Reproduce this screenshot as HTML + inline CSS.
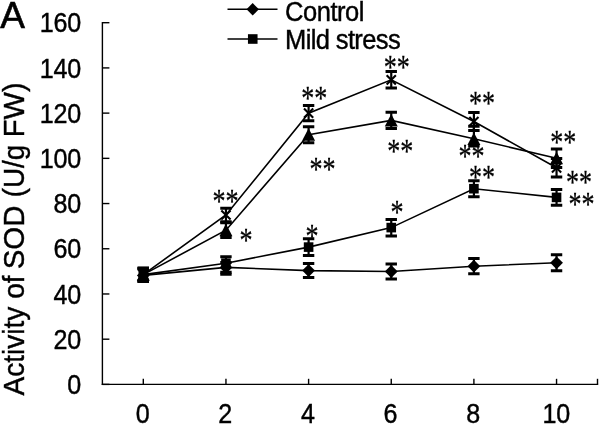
<!DOCTYPE html>
<html><head><meta charset="utf-8"><title>Activity of SOD</title>
<style>html,body{margin:0;padding:0;background:#fff}svg{display:block}</style></head>
<body>
<svg width="600" height="425" viewBox="0 0 600 425">
<rect width="600" height="425" fill="#fff"/>
<g stroke="#000" stroke-width="1.4" fill="none">
<path d="M102.4 21.9V385.1"/>
<path d="M101.7 384.4H598.2"/>
<path d="M102.4 384.40H109.4"/>
<path d="M102.4 339.19H109.4"/>
<path d="M102.4 293.97H109.4"/>
<path d="M102.4 248.76H109.4"/>
<path d="M102.4 203.55H109.4"/>
<path d="M102.4 158.34H109.4"/>
<path d="M102.4 113.12H109.4"/>
<path d="M102.4 67.91H109.4"/>
<path d="M102.4 22.70H109.4"/>
<path d="M143.30 384.4V378.8"/>
<path d="M225.95 384.4V378.8"/>
<path d="M308.60 384.4V378.8"/>
<path d="M391.25 384.4V378.8"/>
<path d="M473.90 384.4V378.8"/>
<path d="M556.55 384.4V378.8"/>
<path d="M597.5 384.4V378.8"/>
</g>
<g font-family="'Liberation Sans', Arial, sans-serif" fill="#000" stroke="#000" stroke-width="0.42">
<text transform="translate(80.9 394.10) scale(0.93 1)" font-size="27" text-anchor="end" letter-spacing="-0.3">0</text>
<text transform="translate(80.9 348.89) scale(0.93 1)" font-size="27" text-anchor="end" letter-spacing="-0.3">20</text>
<text transform="translate(80.9 303.67) scale(0.93 1)" font-size="27" text-anchor="end" letter-spacing="-0.3">40</text>
<text transform="translate(80.9 258.46) scale(0.93 1)" font-size="27" text-anchor="end" letter-spacing="-0.3">60</text>
<text transform="translate(80.9 213.25) scale(0.93 1)" font-size="27" text-anchor="end" letter-spacing="-0.3">80</text>
<text transform="translate(80.9 168.04) scale(0.93 1)" font-size="27" text-anchor="end" letter-spacing="-0.3">100</text>
<text transform="translate(80.9 122.82) scale(0.93 1)" font-size="27" text-anchor="end" letter-spacing="-0.3">120</text>
<text transform="translate(80.9 77.61) scale(0.93 1)" font-size="27" text-anchor="end" letter-spacing="-0.3">140</text>
<text transform="translate(80.9 32.40) scale(0.93 1)" font-size="27" text-anchor="end" letter-spacing="-0.3">160</text>
<text transform="translate(142.50 423.4) scale(0.93 1)" font-size="27" text-anchor="middle" letter-spacing="-0.3">0</text>
<text transform="translate(225.15 423.4) scale(0.93 1)" font-size="27" text-anchor="middle" letter-spacing="-0.3">2</text>
<text transform="translate(307.80 423.4) scale(0.93 1)" font-size="27" text-anchor="middle" letter-spacing="-0.3">4</text>
<text transform="translate(390.45 423.4) scale(0.93 1)" font-size="27" text-anchor="middle" letter-spacing="-0.3">6</text>
<text transform="translate(473.10 423.4) scale(0.93 1)" font-size="27" text-anchor="middle" letter-spacing="-0.3">8</text>
<text transform="translate(556.25 423.4) scale(0.93 1)" font-size="27" text-anchor="middle" letter-spacing="-0.3">10</text>
<text x="0.2" y="27.7" font-size="37" stroke-width="0.6">A</text>
<g transform="translate(24.3 395.5) rotate(-90)" font-size="30.4">
<text transform="translate(0 0) scale(0.924 1)">Activity</text>
<text transform="translate(96.75 0) scale(0.924 1)">of</text>
<text transform="translate(126.2 0) scale(0.967 1)">SOD</text>
<text transform="translate(198.2 0) scale(0.915 1)">(U/g</text>
<text transform="translate(258.3 0) scale(0.955 1)">FW)</text>
</g>
<text transform="translate(285.1 21.3) scale(0.945 1)" font-size="27" letter-spacing="-0.5">Control</text>
<text transform="translate(285 48.9) scale(0.945 1)" font-size="27" letter-spacing="-0.65">Mild stress</text>
</g>
<g stroke="#000" stroke-width="1.5"><path d="M227.5 9.2H277.5"/><path d="M227.5 39.1H277.5"/></g>
<path d="M246.50 9.30L252.70 3.10L258.90 9.30L252.70 15.50Z" fill="#000"/>
<rect x="247.95" y="34.20" width="9.6" height="9.6" fill="#000"/>
<polyline points="143.30,275.40 225.95,267.40 308.60,270.60 391.25,271.50 473.90,266.20 556.55,262.80" fill="none" stroke="#000" stroke-width="1.6"/>
<polyline points="143.30,274.60 225.95,263.20 308.60,247.10 391.25,227.60 473.90,188.70 556.55,197.40" fill="none" stroke="#000" stroke-width="1.6"/>
<polyline points="143.30,274.60 225.95,230.20 308.60,134.70 391.25,120.40 473.90,138.80 556.55,158.20" fill="none" stroke="#000" stroke-width="1.6"/>
<polyline points="143.30,274.60 225.95,215.00 308.60,113.20 391.25,79.80 473.90,121.50 556.55,167.80" fill="none" stroke="#000" stroke-width="1.6"/>
<path d="M143.30 269.20V281.40" stroke="#000" stroke-width="2.2" fill="none"/>
<path d="M137.60 269.20H149.00M137.60 281.40H149.00" stroke="#000" stroke-width="3" fill="none"/>
<path d="M136.90 275.40L143.30 269.00L149.70 275.40L143.30 281.80Z" fill="#000"/>
<path d="M225.95 262.50V274.20" stroke="#000" stroke-width="2.2" fill="none"/>
<path d="M220.25 262.50H231.65M220.25 274.20H231.65" stroke="#000" stroke-width="3" fill="none"/>
<path d="M219.55 267.40L225.95 261.00L232.35 267.40L225.95 273.80Z" fill="#000"/>
<path d="M308.60 263.50V277.60" stroke="#000" stroke-width="2.2" fill="none"/>
<path d="M302.90 263.50H314.30M302.90 277.60H314.30" stroke="#000" stroke-width="3" fill="none"/>
<path d="M302.20 270.60L308.60 264.20L315.00 270.60L308.60 277.00Z" fill="#000"/>
<path d="M391.25 264.10V278.90" stroke="#000" stroke-width="2.2" fill="none"/>
<path d="M385.55 264.10H396.95M385.55 278.90H396.95" stroke="#000" stroke-width="3" fill="none"/>
<path d="M384.85 271.50L391.25 265.10L397.65 271.50L391.25 277.90Z" fill="#000"/>
<path d="M473.90 258.50V273.80" stroke="#000" stroke-width="2.2" fill="none"/>
<path d="M468.20 258.50H479.60M468.20 273.80H479.60" stroke="#000" stroke-width="3" fill="none"/>
<path d="M467.50 266.20L473.90 259.80L480.30 266.20L473.90 272.60Z" fill="#000"/>
<path d="M556.55 254.80V270.70" stroke="#000" stroke-width="2.2" fill="none"/>
<path d="M550.85 254.80H562.25M550.85 270.70H562.25" stroke="#000" stroke-width="3" fill="none"/>
<path d="M550.15 262.80L556.55 256.40L562.95 262.80L556.55 269.20Z" fill="#000"/>
<path d="M143.30 268.20V281.00" stroke="#000" stroke-width="2.2" fill="none"/>
<path d="M137.60 268.20H149.00M137.60 281.00H149.00" stroke="#000" stroke-width="3" fill="none"/>
<rect x="138.50" y="269.80" width="9.6" height="9.6" fill="#000"/>
<path d="M225.95 256.80V272.20" stroke="#000" stroke-width="2.2" fill="none"/>
<path d="M220.25 256.80H231.65M220.25 272.20H231.65" stroke="#000" stroke-width="3" fill="none"/>
<rect x="221.15" y="258.40" width="9.6" height="9.6" fill="#000"/>
<path d="M308.60 238.80V255.60" stroke="#000" stroke-width="2.2" fill="none"/>
<path d="M302.90 238.80H314.30M302.90 255.60H314.30" stroke="#000" stroke-width="3" fill="none"/>
<rect x="303.80" y="242.30" width="9.6" height="9.6" fill="#000"/>
<path d="M391.25 219.40V235.90" stroke="#000" stroke-width="2.2" fill="none"/>
<path d="M385.55 219.40H396.95M385.55 235.90H396.95" stroke="#000" stroke-width="3" fill="none"/>
<rect x="386.45" y="222.80" width="9.6" height="9.6" fill="#000"/>
<path d="M473.90 180.80V196.70" stroke="#000" stroke-width="2.2" fill="none"/>
<path d="M468.20 180.80H479.60M468.20 196.70H479.60" stroke="#000" stroke-width="3" fill="none"/>
<rect x="469.10" y="183.90" width="9.6" height="9.6" fill="#000"/>
<path d="M556.55 189.50V205.30" stroke="#000" stroke-width="2.2" fill="none"/>
<path d="M550.85 189.50H562.25M550.85 205.30H562.25" stroke="#000" stroke-width="3" fill="none"/>
<rect x="551.75" y="192.60" width="9.6" height="9.6" fill="#000"/>
<path d="M143.30 268.20V281.00" stroke="#000" stroke-width="2.2" fill="none"/>
<path d="M137.60 268.20H149.00M137.60 281.00H149.00" stroke="#000" stroke-width="3" fill="none"/>
<path d="M143.30 268.20L149.80 280.70H136.80Z" fill="#000"/>
<path d="M225.95 222.80V237.60" stroke="#000" stroke-width="2.2" fill="none"/>
<path d="M220.25 222.80H231.65M220.25 237.60H231.65" stroke="#000" stroke-width="3" fill="none"/>
<path d="M225.95 223.80L232.45 236.30H219.45Z" fill="#000"/>
<path d="M308.60 126.80V142.70" stroke="#000" stroke-width="2.2" fill="none"/>
<path d="M302.90 126.80H314.30M302.90 142.70H314.30" stroke="#000" stroke-width="3" fill="none"/>
<path d="M308.60 128.30L315.10 140.80H302.10Z" fill="#000"/>
<path d="M391.25 112.20V128.60" stroke="#000" stroke-width="2.2" fill="none"/>
<path d="M385.55 112.20H396.95M385.55 128.60H396.95" stroke="#000" stroke-width="3" fill="none"/>
<path d="M391.25 114.00L397.75 126.50H384.75Z" fill="#000"/>
<path d="M473.90 126.20V146.00" stroke="#000" stroke-width="2.2" fill="none"/>
<path d="M468.20 126.20H479.60M468.20 146.00H479.60" stroke="#000" stroke-width="3" fill="none"/>
<path d="M473.90 132.40L480.40 144.90H467.40Z" fill="#000"/>
<path d="M556.55 149.00V167.40" stroke="#000" stroke-width="2.2" fill="none"/>
<path d="M550.85 149.00H562.25M550.85 167.40H562.25" stroke="#000" stroke-width="3" fill="none"/>
<path d="M556.55 151.80L563.05 164.30H550.05Z" fill="#000"/>
<path d="M143.30 268.20V281.00" stroke="#000" stroke-width="2.2" fill="none"/>
<path d="M137.60 268.20H149.00M137.60 281.00H149.00" stroke="#000" stroke-width="3" fill="none"/>
<path d="M138.70 270.00L147.90 279.20M138.70 279.20L147.90 270.00" stroke="#000" stroke-width="2.1" fill="none"/>
<path d="M225.95 208.30V221.70" stroke="#000" stroke-width="2.2" fill="none"/>
<path d="M220.25 208.30H231.65M220.25 221.70H231.65" stroke="#000" stroke-width="3" fill="none"/>
<path d="M221.35 210.40L230.55 219.60M221.35 219.60L230.55 210.40" stroke="#000" stroke-width="2.1" fill="none"/>
<path d="M308.60 105.60V120.80" stroke="#000" stroke-width="2.2" fill="none"/>
<path d="M302.90 105.60H314.30M302.90 120.80H314.30" stroke="#000" stroke-width="3" fill="none"/>
<path d="M304.00 108.60L313.20 117.80M304.00 117.80L313.20 108.60" stroke="#000" stroke-width="2.1" fill="none"/>
<path d="M391.25 71.50V88.10" stroke="#000" stroke-width="2.2" fill="none"/>
<path d="M385.55 71.50H396.95M385.55 88.10H396.95" stroke="#000" stroke-width="3" fill="none"/>
<path d="M386.65 75.20L395.85 84.40M386.65 84.40L395.85 75.20" stroke="#000" stroke-width="2.1" fill="none"/>
<path d="M473.90 112.60V130.40" stroke="#000" stroke-width="2.2" fill="none"/>
<path d="M468.20 112.60H479.60M468.20 130.40H479.60" stroke="#000" stroke-width="3" fill="none"/>
<path d="M469.30 116.90L478.50 126.10M469.30 126.10L478.50 116.90" stroke="#000" stroke-width="2.1" fill="none"/>
<path d="M556.55 158.50V177.10" stroke="#000" stroke-width="2.2" fill="none"/>
<path d="M550.85 158.50H562.25M550.85 177.10H562.25" stroke="#000" stroke-width="3" fill="none"/>
<path d="M551.95 163.20L561.15 172.40M551.95 172.40L561.15 163.20" stroke="#000" stroke-width="2.1" fill="none"/>
<g font-family="'Liberation Serif', serif" font-size="30" text-anchor="middle" fill="#000" stroke="#000" stroke-width="0.25">
<text transform="translate(225.6 202.45) scale(0.87 1.12)" y="8.64">**</text>
<text transform="translate(245.9 241.35) scale(0.87 1.12)" y="8.64">*</text>
<text transform="translate(314.2 99.25) scale(0.87 1.12)" y="8.64">**</text>
<text transform="translate(322.5 170.35) scale(0.87 1.12)" y="8.64">**</text>
<text transform="translate(311.9 237.35) scale(0.87 1.12)" y="8.64">*</text>
<text transform="translate(396.8 68.55) scale(0.87 1.12)" y="8.64">**</text>
<text transform="translate(400.3 152.05) scale(0.87 1.12)" y="8.64">**</text>
<text transform="translate(397 212.85) scale(0.87 1.12)" y="8.64">*</text>
<text transform="translate(482 104.25) scale(0.87 1.12)" y="8.64">**</text>
<text transform="translate(471.5 156.85) scale(0.87 1.12)" y="8.64">**</text>
<text transform="translate(482 178.65) scale(0.87 1.12)" y="8.64">**</text>
<text transform="translate(563.3 143.15) scale(0.87 1.12)" y="8.64">**</text>
<text transform="translate(579 183.05) scale(0.87 1.12)" y="8.64">**</text>
<text transform="translate(581.6 205.15) scale(0.87 1.12)" y="8.64">**</text>
</g>
</svg>
</body></html>
